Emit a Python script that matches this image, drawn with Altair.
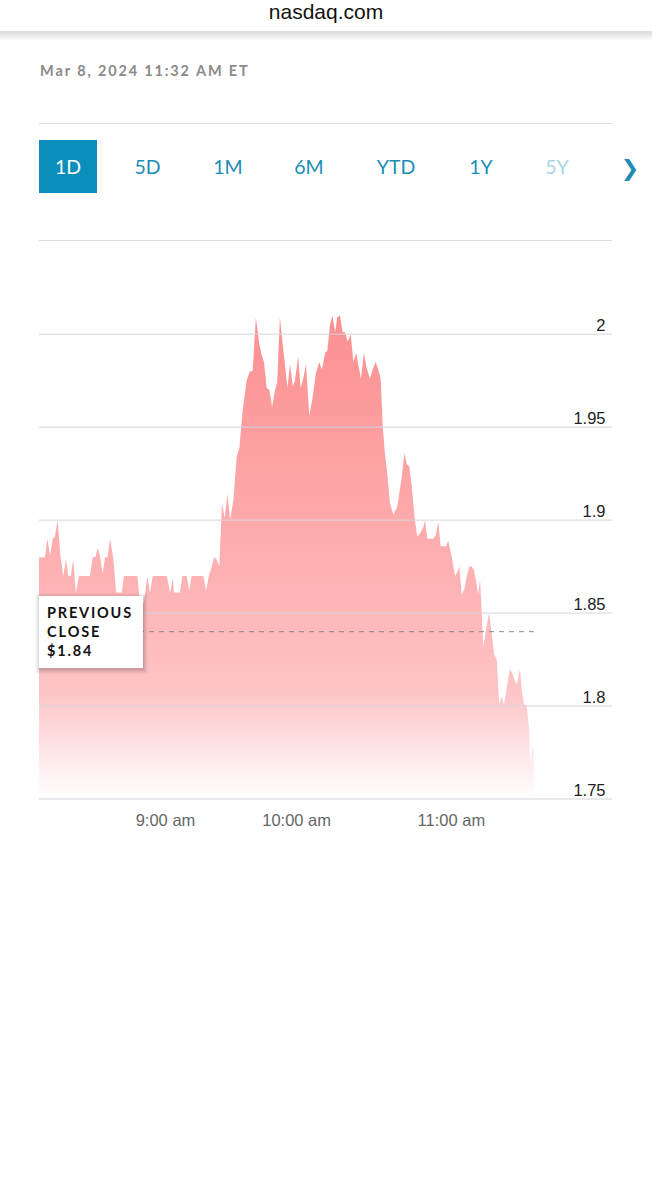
import altair as alt
import pandas as pd

# ---------------- data ----------------
tick_index = [0, 2, 2.8, 3.7, 4.6, 5.3, 6.2, 7.2, 8.1, 9, 9.8, 10.6, 11.4, 12.3, 13.3, 17, 17.9, 18.8, 19.6, 20.3,
              21.2, 22, 22.8, 23.7, 24.8, 25.7, 27.6, 28.3, 32.8, 33.7, 35, 36.1, 37, 37.9, 42.6, 43.7, 44.6, 45,
              47, 47.8, 49.2, 50.1, 50.9, 54.8, 55.7, 56.6, 57.6, 58.3, 59.2, 60.1, 61, 61.9, 62.8, 63.7, 64.8,
              65.9, 66.8, 67.9, 69.2, 70.3, 71.2, 72.3, 73.4, 74.2, 75, 75.9, 76.8, 77.7, 78.7, 79.4, 80.3, 81.2,
              82.1, 82.8, 83.7, 84.6, 85.3, 86.4, 87.2, 88.1, 89, 90.1, 91.2, 92.3, 93.4, 94.3, 95.4, 96.1, 97,
              97.8, 98.7, 99.4, 100.3, 101.2, 102, 102.9, 103.9, 104.8, 105.7, 106.4, 107.3, 108.3, 109.2, 110.3,
              111.2, 112.2, 113.1, 113.9, 114.6, 115.3, 116.1, 117, 118.1, 119.4, 120.9, 121.8, 122.6, 123.4,
              124.2, 125.3, 126.1, 127, 128.1, 128.7, 129.4, 131.4, 132.3, 133.1, 133.9, 135.7, 136.4, 137.6,
              138.7, 139.4, 140.1, 140.9, 141.8, 142.6, 143.4, 144.2, 145, 145.7, 146.4, 147, 147.6, 148.1, 149,
              150, 150.9, 151.7, 152.6, 153.4, 154.2, 155, 156.1, 157, 157.9, 158.7, 159.4, 160.3, 161, 161.7,
              162.6, 163.4, 163.9, 164.4, 164.9]
price = [1.880, 1.880, 1.890, 1.881, 1.890, 1.891, 1.900, 1.880, 1.870, 1.879, 1.870, 1.870, 1.879, 1.861, 1.870,
         1.870, 1.880, 1.880, 1.885, 1.881, 1.871, 1.880, 1.880, 1.890, 1.879, 1.861, 1.861, 1.870, 1.870, 1.855,
         1.856, 1.870, 1.861, 1.870, 1.870, 1.861, 1.869, 1.861, 1.861, 1.870, 1.870, 1.862, 1.870, 1.870, 1.862,
         1.870, 1.875, 1.880, 1.879, 1.875, 1.909, 1.901, 1.914, 1.900, 1.911, 1.934, 1.939, 1.959, 1.975, 1.980,
         1.980, 2.009, 1.995, 1.989, 1.985, 1.971, 1.970, 1.961, 1.970, 1.974, 2.009, 1.995, 1.982, 1.971, 1.984,
         1.972, 1.975, 1.988, 1.971, 1.976, 1.984, 1.956, 1.966, 1.979, 1.985, 1.981, 1.990, 1.991, 2.005, 2.010,
         2.001, 2.009, 2.010, 2.001, 2.001, 1.996, 2.000, 1.985, 1.990, 1.984, 1.976, 1.990, 1.982, 1.976, 1.981,
         1.985, 1.981, 1.976, 1.950, 1.936, 1.925, 1.909, 1.903, 1.907, 1.923, 1.936, 1.930, 1.929, 1.919, 1.900,
         1.891, 1.893, 1.896, 1.900, 1.890, 1.890, 1.892, 1.899, 1.886, 1.886, 1.889, 1.880, 1.870, 1.872, 1.875,
         1.860, 1.863, 1.870, 1.875, 1.875, 1.873, 1.867, 1.860, 1.868, 1.850, 1.832, 1.841, 1.850, 1.839, 1.828,
         1.825, 1.801, 1.805, 1.801, 1.812, 1.820, 1.817, 1.813, 1.812, 1.820, 1.807, 1.801, 1.800, 1.787, 1.768,
         1.778, 1.776]

previous_close = 1.84
y_ticks = [1.75, 1.80, 1.85, 1.90, 1.95, 2.00]
x_tick_index = [42, 85.7, 137.3]
x_tick_labels = ["9:00 am", "10:00 am", "11:00 am"]
tabs = ["1D", "5D", "1M", "6M", "YTD", "1Y", "5Y"]
site = "nasdaq.com"
timestamp = "Mar 8, 2024 11:32 AM ET"
prev_lines = ["PREVIOUS", "CLOSE", "$1.84"]

# ---------------- layout ----------------
PAD_L, PAD_T = 39, 297
W, H = 573, 502
X_DOMAIN = [0, 191]
Y_DOMAIN = [1.75, 2.02]

df = pd.DataFrame({"i": tick_index, "p": price})


def spaced(s, sep="\u2009"):
    return sep.join(list(s))


def txt(s, x, y, **kw):
    return alt.Chart(pd.DataFrame({"t": [s]})).mark_text(**kw).encode(
        text="t:N", x=alt.value(x - PAD_L), y=alt.value(y - PAD_T))


def box(x1, x2, y1, y2, **kw):
    return alt.Chart(pd.DataFrame({"a": [0]})).mark_rect(**kw).encode(
        x=alt.value(x1 - PAD_L), x2=alt.value(x2 - PAD_L),
        y=alt.value(y1 - PAD_T), y2=alt.value(y2 - PAD_T))


def hline(x1, x2, y, color, width=1):
    return alt.Chart(pd.DataFrame({"a": [0]})).mark_rule(color=color, strokeWidth=width).encode(
        x=alt.value(x1 - PAD_L), x2=alt.value(x2 - PAD_L), y=alt.value(y - PAD_T))


label_expr = " : ".join(
    [f"datum.value < {(x_tick_index[k] + x_tick_index[k + 1]) / 2} ? '{x_tick_labels[k]}'" for k in range(len(x_tick_index) - 1)]
    + [f"'{x_tick_labels[-1]}'"])

grad = alt.Gradient(
    gradient="linear", x1=0, x2=0, y1=0, y2=1,
    stops=[alt.GradientStop(color="#fc8f90", offset=0),
           alt.GradientStop(color="#fdb2b4", offset=0.55),
           alt.GradientStop(color="#fdc4c6", offset=0.78),
           alt.GradientStop(color="#feeaeb", offset=0.92),
           alt.GradientStop(color="#ffffff", offset=1)])

area = alt.Chart(df).mark_area(color=grad, interpolate="linear").encode(
    x=alt.X("i:Q", scale=alt.Scale(domain=X_DOMAIN, nice=False, zero=False),
            axis=alt.Axis(values=x_tick_index, labelExpr=label_expr, grid=False, domain=False, ticks=False,
                          labelFont="Liberation Sans", labelFontSize=16.5, labelColor="#666666",
                          labelPadding=13, labelFlush=False, labelOverlap=False, title=None)),
    y=alt.Y("p:Q", scale=alt.Scale(domain=Y_DOMAIN, nice=False, zero=False),
            axis=alt.Axis(orient="right", values=y_ticks, format="~g", grid=False, domain=False, ticks=False,
                          tickSize=0, labelAlign="right", labelPadding=-7, labelBaseline="alphabetic",
                          labelOffset=-4, labelFont="Liberation Sans", labelFontSize=16.5, labelColor="#222222",
                          labelFlush=False, labelOverlap=False, title=None)),
    y2=alt.Y2Datum(Y_DOMAIN[0]),
)

grid = alt.Chart(pd.DataFrame({"v": y_ticks})).mark_rule(color="#d4d4dc", strokeWidth=1).encode(
    y="v:Q", x=alt.value(0), x2=alt.value(W))

prev_rule = alt.Chart(pd.DataFrame({"v": [previous_close], "a": [tick_index[0]], "b": [tick_index[-1]]})).mark_rule(
    color="#8a8a8a", strokeWidth=1, strokeDash=[5, 5]).encode(y="v:Q", x="a:Q", x2="b:Q")

layers = [area, grid, prev_rule]

# shadow + previous close box
for k, op in [(5, 0.02), (4, 0.03), (3, 0.04), (2, 0.05), (1, 0.06)]:
    layers.append(box(39 - k + 1, 143 + k, 596 - k + 2, 668 + k + 1, color="#000000", opacity=op))
layers.append(box(39, 143, 596, 668, color="#ffffff"))
for line, yy in zip(prev_lines, [618, 637, 656]):
    layers.append(txt(spaced(line), 47, yy, font="Lato", fontSize=14.5, fontWeight="bold", color="#111111",
                      align="left", baseline="alphabetic"))

# header
layers.append(txt(site, 326, 19, font="Liberation Sans", fontSize=21, color="#111111", align="center",
                  baseline="alphabetic"))
layers.append(box(0, 652, 31, 41, color=alt.Gradient(gradient="linear", x1=0, x2=0, y1=0, y2=1,
                  stops=[alt.GradientStop(color="#d9d9d9", offset=0), alt.GradientStop(color="#ffffff", offset=1)])))
layers.append(txt(spaced(timestamp), 40, 76, font="Lato", fontSize=14.5, fontWeight="bold", color="#8a8a8a",
                  align="left", baseline="alphabetic"))
layers.append(hline(39, 612, 123.5, "#dddddd"))
layers.append(hline(39, 612, 240.5, "#dddddd"))

# tabs
tab_centers = [68, 147.5, 228, 309, 396, 481, 557]
layers.append(box(39, 97, 140, 193, color="#0a8fbd"))
for k, (t, cx) in enumerate(zip(tabs, tab_centers)):
    col = "#ffffff" if k == 0 else ("#a8d6e5" if t == "5Y" else "#1a8db6")
    layers.append(txt(t, cx, 174, font="Lato", fontSize=19.5, color=col, align="center", baseline="alphabetic"))
layers.append(txt("\u276f", 630, 176, font="DejaVu Sans", fontSize=22, color="#1a8db6", align="center",
                  baseline="alphabetic"))

chart = alt.layer(*layers).properties(
    width=W, height=H,
    padding={"left": PAD_L, "top": PAD_T, "right": 652 - PAD_L - W, "bottom": 1200 - PAD_T - H},
    autosize=alt.AutoSizeParams(type="none"),
    background="#ffffff",
).configure_view(strokeWidth=0)

chart.save("out.html", embed_options={"renderer": "svg", "actions": False})
